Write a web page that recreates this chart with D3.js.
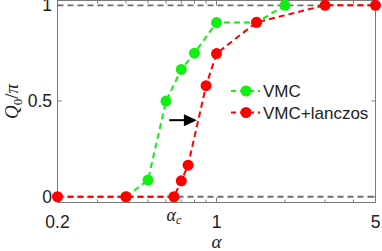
<html>
<head>
<script src="https://d3js.org/d3.v7.min.js"></script>
<style>
  body { margin: 0; background: #fff; }
  text { font-family: "Liberation Sans", Arial, sans-serif; }
  .math { font-family: "Liberation Serif", "Times New Roman", serif; font-style: italic; }
</style>
</head>
<body>
<div id="vis"></div>
<script>
// data
var vmcAlpha = [0.4, 0.5, 0.6, 0.7, 0.8, 1.0, 1.5, 2.0];
var vmcQ = [0, 0.087, 0.5, 0.665, 0.75, 0.91, 0.91, 1.0];
var lanAlpha = [0.2, 0.4, 0.65, 0.7, 0.75, 0.9, 1.0, 1.5, 3.0, 5.0];
var lanQ = [0, 0, 0, 0.083, 0.165, 0.58, 0.748, 0.911, 1.0, 1.0];
var refLevels = [0, 1];
var xTicks = [0.2, 1, 5];
var xMinor = [0.3, 0.4, 0.5, 0.6, 0.7, 0.8, 0.9, 2, 3, 4];
var yTicks = [0, 0.5, 1];
var alphaC = 0.65;
var arrowFrom = [0.62, 0.4], arrowTo = [0.82, 0.4];
var legendNames = ["VMC", "VMC+lanczos"];
var colors = ["#11ee11", "#ff0000"];

(function () {
var W = 382, H = 251;
var pl = 57.5, pr = 375.5, pt = 0.5, pb = 202.5;

var svg = d3.select("#vis").append("svg").attr("width", W).attr("height", H);

var x = d3.scaleLog().domain([0.2, 5]).range([pl, pr]);
var y = d3.scaleLinear().domain([-0.03, 1.025]).range([pb, pt]);

// box
svg.append("rect")
  .attr("x", pl).attr("y", pt)
  .attr("width", pr - pl).attr("height", pb - pt)
  .attr("fill", "none").attr("stroke", "#7a7a7a").attr("stroke-width", 1);

// ticks, inward, bottom and top
var axisCol = "#7a7a7a";
xTicks.concat(xMinor).forEach(function (v) {
  var len = xTicks.indexOf(v) >= 0 ? 5 : 3;
  svg.append("line").attr("x1", x(v)).attr("x2", x(v)).attr("y1", pb).attr("y2", pb - len).attr("stroke", axisCol);
  svg.append("line").attr("x1", x(v)).attr("x2", x(v)).attr("y1", pt).attr("y2", pt + len).attr("stroke", axisCol);
});
yTicks.forEach(function (v) {
  svg.append("line").attr("x1", pl).attr("x2", pl + 4).attr("y1", y(v)).attr("y2", y(v)).attr("stroke", axisCol);
  svg.append("line").attr("x1", pr).attr("x2", pr - 4).attr("y1", y(v)).attr("y2", y(v)).attr("stroke", axisCol);
});

// tick labels
svg.selectAll(".xl").data(xTicks).enter().append("text")
  .attr("x", function (d) { return x(d); })
  .attr("y", 228)
  .attr("text-anchor", "middle")
  .attr("font-size", 17.5)
  .attr("fill", "#222")
  .text(function (d) { return d; });
svg.selectAll(".yl").data(yTicks).enter().append("text")
  .attr("x", 52)
  .attr("y", function (d) { return y(d) + 6; })
  .attr("text-anchor", "end")
  .attr("font-size", 17.5)
  .attr("fill", "#222")
  .text(function (d) { return d; });

// alpha_c label
var ac = svg.append("text").attr("class", "math")
  .attr("x", x(alphaC)).attr("y", 221)
  .attr("text-anchor", "middle").attr("font-size", 18).attr("fill", "#222");
ac.append("tspan").text("α");
ac.append("tspan").attr("font-size", 12).attr("dy", 3).text("c");

// axis titles
svg.append("text").attr("class", "math")
  .attr("x", (pl + pr) / 2).attr("y", 248)
  .attr("text-anchor", "middle").attr("font-size", 19).attr("fill", "#222")
  .text("α");
var yl = svg.append("text").attr("class", "math")
  .attr("transform", "translate(18," + ((pt + pb) / 2) + ") rotate(-90)")
  .attr("text-anchor", "middle").attr("font-size", 19).attr("fill", "#222");
yl.append("tspan").text("Q");
yl.append("tspan").attr("font-size", 13).attr("dy", 4).attr("font-style", "normal").text("0");
yl.append("tspan").attr("dy", -4).attr("font-style", "normal").text("/");
yl.append("tspan").text("π");

// dashed reference lines
svg.selectAll(".ref").data(refLevels).enter().append("line")
  .attr("x1", pl).attr("x2", pr)
  .attr("y1", function (d) { return y(d); }).attr("y2", function (d) { return y(d); })
  .attr("stroke", "#6e6e6e").attr("stroke-width", 1.8)
  .attr("stroke-dasharray", "6,4");

// series
var series = [
  { xs: vmcAlpha, ys: vmcQ, color: colors[0] },
  { xs: lanAlpha, ys: lanQ, color: colors[1] }
];
var line = d3.line().x(function (d) { return x(d[0]); }).y(function (d) { return y(d[1]); });
series.forEach(function (s) {
  var pts = s.xs.map(function (v, i) { return [v, s.ys[i]]; });
  svg.append("path").datum(pts).attr("d", line)
    .attr("fill", "none").attr("stroke", s.color).attr("stroke-width", 2)
    .attr("stroke-dasharray", "6,4");
  svg.selectAll(null).data(pts).enter().append("circle")
    .attr("cx", function (d) { return x(d[0]); })
    .attr("cy", function (d) { return y(d[1]); })
    .attr("r", 5.5).attr("fill", s.color);
});

// arrow
svg.append("line")
  .attr("x1", x(arrowFrom[0])).attr("y1", y(arrowFrom[1]))
  .attr("x2", x(arrowTo[0]) - 11).attr("y2", y(arrowTo[1]))
  .attr("stroke", "#000").attr("stroke-width", 2);
var ax = x(arrowTo[0]), ay = y(arrowTo[1]);
svg.append("path")
  .attr("d", "M" + ax + "," + ay + "L" + (ax - 13) + "," + (ay - 6) + "L" + (ax - 13) + "," + (ay + 6) + "Z")
  .attr("fill", "#000");

// legend
legendNames.forEach(function (name, i) {
  var ly = 91 + i * 21.5;
  svg.append("line").attr("x1", 231).attr("x2", 260).attr("y1", ly).attr("y2", ly)
    .attr("stroke", colors[i]).attr("stroke-width", 2).attr("stroke-dasharray", "5,4");
  svg.append("circle").attr("cx", 246).attr("cy", ly).attr("r", 5.5).attr("fill", colors[i]);
  svg.append("text").attr("x", 263).attr("y", ly + 6).attr("font-size", 17).attr("fill", "#222").text(name);
});
})();
</script>
</body>
</html>
